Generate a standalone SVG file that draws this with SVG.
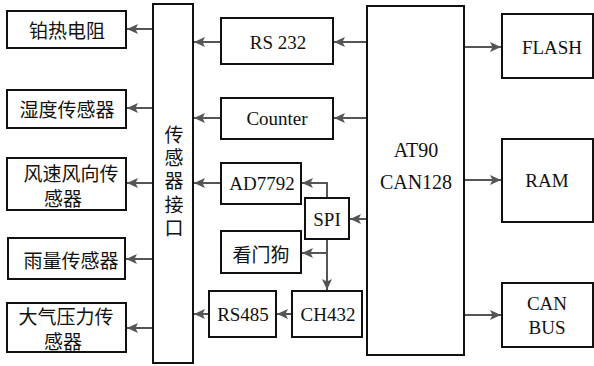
<svg xmlns="http://www.w3.org/2000/svg" width="594" height="366" viewBox="0 0 594 366">
<style>
.box{fill:#fff;stroke:#111;stroke-width:2}
.en{font-family:"Liberation Serif","Tinos","DejaVu Serif","Noto Serif",serif;font-size:19px;fill:#111;text-anchor:middle}
.zh{font-family:"Noto Sans CJK SC","Noto Sans",sans-serif;font-size:19px;fill:#111;text-anchor:middle;dominant-baseline:central}
.vt{font-family:"Noto Sans CJK SC","Noto Sans",sans-serif;font-size:19px;fill:#111;writing-mode:vertical-rl;text-orientation:upright;letter-spacing:4.3px}
.ln{fill:none;stroke:#555;stroke-width:2}
</style>
<defs>
<marker id="ah" markerUnits="userSpaceOnUse" markerWidth="12" markerHeight="12" viewBox="0 0 12 12" refX="11" refY="6" orient="auto">
<path d="M0,1 L11,6 L0,11 L2.5,6 z" fill="#555"/>
</marker>
</defs>
<rect width="594" height="366" fill="#fff"/>
<g id="connectors">
<line class="ln" x1="153" y1="29" x2="127" y2="29" marker-end="url(#ah)"/>
<line class="ln" x1="153" y1="108" x2="127" y2="108" marker-end="url(#ah)"/>
<line class="ln" x1="153" y1="183" x2="127" y2="183" marker-end="url(#ah)"/>
<line class="ln" x1="153" y1="259" x2="126" y2="259" marker-end="url(#ah)"/>
<line class="ln" x1="153" y1="328" x2="127" y2="328" marker-end="url(#ah)"/>
<line class="ln" x1="221" y1="42" x2="194" y2="42" marker-end="url(#ah)"/>
<line class="ln" x1="221" y1="118" x2="194" y2="118" marker-end="url(#ah)"/>
<line class="ln" x1="221" y1="183" x2="194" y2="183" marker-end="url(#ah)"/>
<line class="ln" x1="209" y1="314" x2="194" y2="314" marker-end="url(#ah)"/>
<line class="ln" x1="367" y1="42" x2="334" y2="42" marker-end="url(#ah)"/>
<line class="ln" x1="367" y1="118" x2="334" y2="118" marker-end="url(#ah)"/>
<line class="ln" x1="367" y1="219" x2="350" y2="219" marker-end="url(#ah)"/>
<polyline class="ln" points="327,198 327,183 302,183" marker-end="url(#ah)"/>
<line class="ln" x1="327" y1="239" x2="327" y2="290" marker-end="url(#ah)"/>
<line class="ln" x1="327" y1="253" x2="302" y2="253" marker-end="url(#ah)"/>
<line class="ln" x1="292" y1="314" x2="277" y2="314" marker-end="url(#ah)"/>
<line class="ln" x1="464" y1="47" x2="501" y2="47" marker-end="url(#ah)"/>
<line class="ln" x1="464" y1="180" x2="501" y2="180" marker-end="url(#ah)"/>
<line class="ln" x1="464" y1="315" x2="501" y2="315" marker-end="url(#ah)"/>
</g>
<g id="n-bore">
<rect class="box" x="7" y="11" width="119" height="37"/>
<text class="zh" x="67" y="29.5">铂热电阻</text>
</g>
<g id="n-humidity">
<rect class="box" x="7" y="90" width="119" height="38"/>
<text class="zh" x="67" y="108.5">湿度传感器</text>
</g>
<g id="n-wind">
<rect class="box" x="7" y="158" width="119" height="52"/>
<text class="zh" x="71" y="172">风速风向传</text>
<text class="zh" x="63" y="197">感器</text>
</g>
<g id="n-rain">
<rect class="box" x="8" y="238" width="117" height="41"/>
<text class="zh" x="71" y="259">雨量传感器</text>
</g>
<g id="n-pressure">
<rect class="box" x="7" y="303" width="119" height="49"/>
<text class="zh" x="66" y="315">大气压力传</text>
<text class="zh" x="63" y="340">感器</text>
</g>
<g id="n-interface">
<rect class="box" x="153" y="4" width="40" height="359"/>
<text class="vt" x="174" y="125">传感器接口</text>
</g>
<g id="n-rs232">
<rect class="box" x="221" y="18" width="112" height="46"/>
<text class="en" x="278" y="48.5">RS 232</text>
</g>
<g id="n-counter">
<rect class="box" x="221" y="98" width="112" height="41"/>
<text class="en" x="277" y="124.5">Counter</text>
</g>
<g id="n-ad7792">
<rect class="box" x="221" y="163" width="80" height="41"/>
<text class="en" x="262" y="189.5">AD7792</text>
</g>
<g id="n-spi">
<rect class="box" x="305" y="198" width="44" height="41"/>
<text class="en" x="327" y="225.5">SPI</text>
</g>
<g id="n-watchdog">
<rect class="box" x="221" y="231" width="80" height="42"/>
<text class="zh" x="261" y="253">看门狗</text>
</g>
<g id="n-rs485">
<rect class="box" x="209" y="291" width="67" height="46"/>
<text class="en" x="243" y="320.5">RS485</text>
</g>
<g id="n-ch432">
<rect class="box" x="292" y="291" width="70" height="46"/>
<text class="en" x="328" y="320.5">CH432</text>
</g>
<g id="n-mcu">
<rect class="box" x="367" y="6" width="97" height="349"/>
<text class="en" x="416" y="157" style="font-size:20px">AT90</text>
<text class="en" x="416" y="189" style="font-size:20px">CAN128</text>
</g>
<g id="n-flash">
<rect class="box" x="502" y="14" width="91" height="64"/>
<text class="en" x="552" y="53.5">FLASH</text>
</g>
<g id="n-ram">
<rect class="box" x="502" y="139" width="91" height="83"/>
<text class="en" x="547" y="187">RAM</text>
</g>
<g id="n-canbus">
<rect class="box" x="502" y="283" width="91" height="64"/>
<text class="en" x="547" y="310">CAN</text>
<text class="en" x="547" y="334">BUS</text>
</g>
</svg>
